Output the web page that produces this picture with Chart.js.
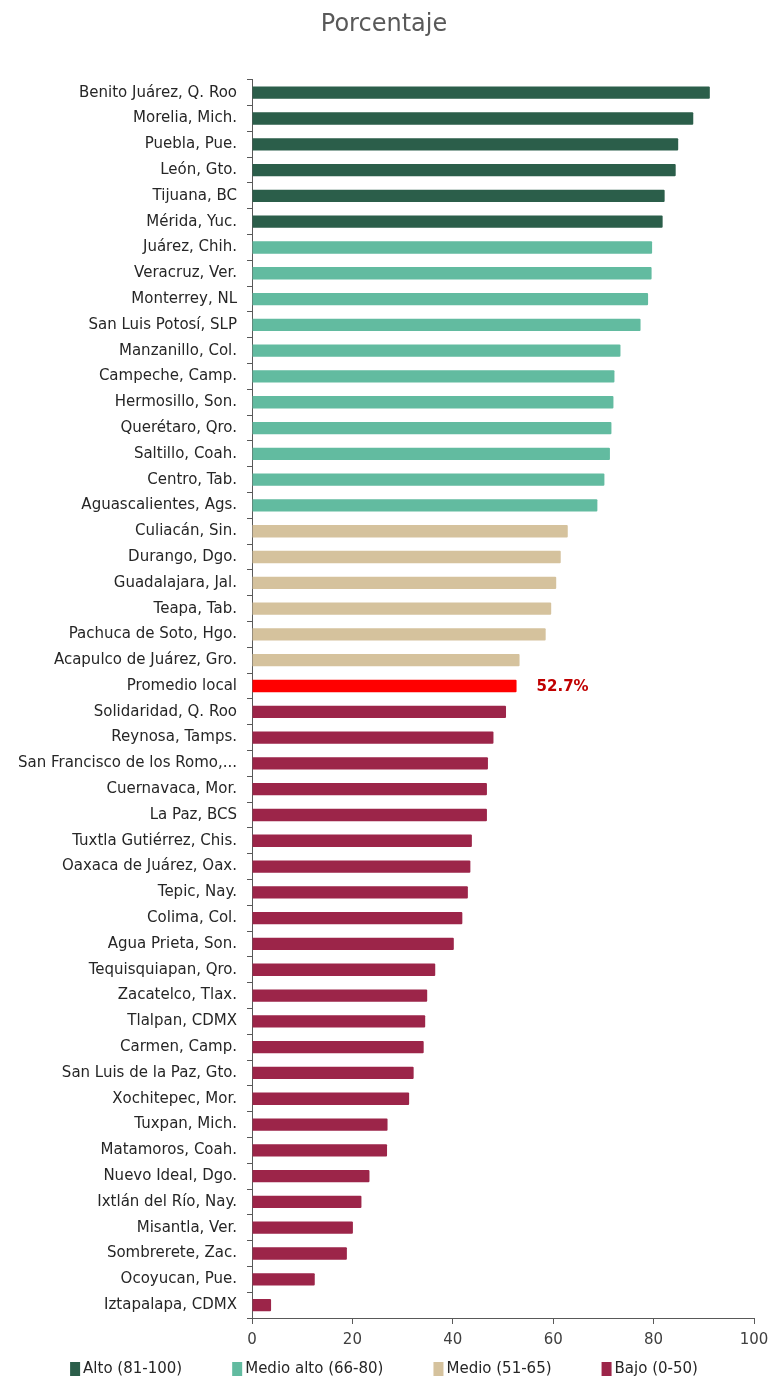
<!DOCTYPE html>
<html>
<head>
<meta charset="utf-8">
<script src="https://cdn.jsdelivr.net/npm/chart.js@4"></script>
<style>
  body { margin: 0; background: #fff; }
  #wrap { width: 768px; height: 1378px; position: relative; }
</style>
</head>
<body>
<div id="wrap"><canvas id="myChart"></canvas></div>
<script>
// Categorías (municipios) y su porcentaje
const categorias = [
    'Benito Juárez, Q. Roo', 'Morelia, Mich.', 'Puebla, Pue.', 'León, Gto.', 'Tijuana, BC',
    'Mérida, Yuc.', 'Juárez, Chih.', 'Veracruz, Ver.', 'Monterrey, NL', 'San Luis Potosí, SLP',
    'Manzanillo, Col.', 'Campeche, Camp.', 'Hermosillo, Son.', 'Querétaro, Qro.', 'Saltillo, Coah.',
    'Centro, Tab.', 'Aguascalientes, Ags.', 'Culiacán, Sin.', 'Durango, Dgo.', 'Guadalajara, Jal.',
    'Teapa, Tab.', 'Pachuca de Soto, Hgo.', 'Acapulco de Juárez, Gro.', 'Promedio local',
    'Solidaridad, Q. Roo', 'Reynosa, Tamps.', 'San Francisco de los Romo,...', 'Cuernavaca, Mor.',
    'La Paz, BCS', 'Tuxtla Gutiérrez, Chis.', 'Oaxaca de Juárez, Oax.', 'Tepic, Nay.', 'Colima, Col.',
    'Agua Prieta, Son.', 'Tequisquiapan, Qro.', 'Zacatelco, Tlax.', 'Tlalpan, CDMX', 'Carmen, Camp.',
    'San Luis de la Paz, Gto.', 'Xochitepec, Mor.', 'Tuxpan, Mich.', 'Matamoros, Coah.',
    'Nuevo Ideal, Dgo.', 'Ixtlán del Río, Nay.', 'Misantla, Ver.', 'Sombrerete, Zac.',
    'Ocoyucan, Pue.', 'Iztapalapa, CDMX'
];

const valores = [
    91.2, 87.9, 84.9, 84.4, 82.2,
    81.8, 79.7, 79.6, 78.9, 77.4,
    73.4, 72.2, 72.0, 71.6, 71.3,
    70.2, 68.8, 62.9, 61.5, 60.6,
    59.6, 58.5, 53.3, 52.7,
    50.6, 48.1, 47.0, 46.8,
    46.8, 43.8, 43.5, 43.0, 41.9,
    40.2, 36.5, 34.9, 34.5, 34.2,
    32.2, 31.3, 27.0, 26.9,
    23.4, 21.8, 20.1, 18.9,
    12.5, 3.8
];

const promedio = 'Promedio local';
const niveles = ['Alto (81-100)', 'Medio alto (66-80)', 'Medio (51-65)', 'Bajo (0-50)'];
const limitesNivel = [81, 66, 51, 0];
const coloresNivel = ['#2B5E4A', '#62BBA0', '#D5C29D', '#9C2549'];
const colorPromedio = '#FF0000';
const ticksX = [0, 20, 40, 60, 80, 100];

// color de cada barra segun su nivel
function colorBarra(cat, v) {
    if (cat === promedio) return colorPromedio;
    for (let i = 0; i < limitesNivel.length; i++) {
        if (v >= limitesNivel[i]) return coloresNivel[i];
    }
    return coloresNivel[coloresNivel.length - 1];
}
const colores = categorias.map((c, i) => colorBarra(c, valores[i]));

const FONT = "'DejaVu Sans', sans-serif";

// etiqueta del promedio local
const etiquetaPromedio = {
    id: 'etiquetaPromedio',
    afterDatasetsDraw(chart) {
        const idx = categorias.indexOf(promedio);
        const bar = chart.getDatasetMeta(0).data[idx];
        const ctx = chart.ctx;
        ctx.save();
        ctx.font = "bold 15px " + FONT;
        ctx.fillStyle = '#C00000';
        ctx.textAlign = 'left';
        ctx.textBaseline = 'middle';
        ctx.fillText(valores[idx].toFixed(1) + '%', bar.x + 20, bar.y + 1);
        ctx.restore();
    }
};

// leyenda propia, con más separación entre elementos
const leyenda = {
    id: 'leyenda',
    afterDraw(chart) {
        const ctx = chart.ctx;
        ctx.save();
        ctx.font = "15px " + FONT;
        ctx.textBaseline = 'middle';
        const box = 10, gapTxt = 3, gapItem = 50;
        const anchos = niveles.map(n => box + gapTxt + ctx.measureText(n).width);
        const total = anchos.reduce((a, b) => a + b, 0) + gapItem * (niveles.length - 1);
        let x = (chart.width - total) / 2;
        const y = 1369;
        niveles.forEach((n, i) => {
            ctx.fillStyle = coloresNivel[i];
            ctx.fillRect(x, y - 7, box, 14);
            ctx.fillStyle = '#262626';
            ctx.fillText(n, x + box + gapTxt, y);
            x += anchos[i] + gapItem;
        });
        ctx.restore();
    }
};

new Chart(document.getElementById('myChart'), {
    type: 'bar',
    data: {
        labels: categorias,
        datasets: [{
            data: valores,
            backgroundColor: colores,
            barPercentage: 0.9,
            categoryPercentage: 0.53,
            borderRadius: 1
        }]
    },
    options: {
        indexAxis: 'y',
        responsive: true,
        maintainAspectRatio: false,
        animation: false,
        layout: { padding: { left: 0, right: 0, top: 0, bottom: 22 } },
        plugins: {
            title: {
                display: true,
                text: 'Porcentaje',
                color: '#595959',
                font: { family: FONT, size: 24, weight: 'normal' },
                padding: { top: 10, bottom: 41 }
            },
            legend: { display: false },
            tooltip: { enabled: false }
        },
        scales: {
            x: {
                min: 0,
                max: 100,
                afterBuildTicks: axis => { axis.ticks = ticksX.map(v => ({ value: v })); },
                afterFit: axis => { axis.paddingRight = 14; },
                ticks: { color: '#404040', font: { family: FONT, size: 15 }, padding: 7 },
                grid: { drawOnChartArea: false, tickLength: 6, color: '#595959' },
                border: { color: '#595959' }
            },
            y: {
                afterFit: axis => { axis.width = 252; },
                ticks: { color: '#262626', font: { family: FONT, size: 15 }, autoSkip: false, padding: 10 },
                grid: { drawOnChartArea: false, tickLength: 5, color: '#595959' },
                border: { color: '#595959' }
            }
        }
    },
    plugins: [etiquetaPromedio, leyenda]
});
</script>
</body>
</html>
